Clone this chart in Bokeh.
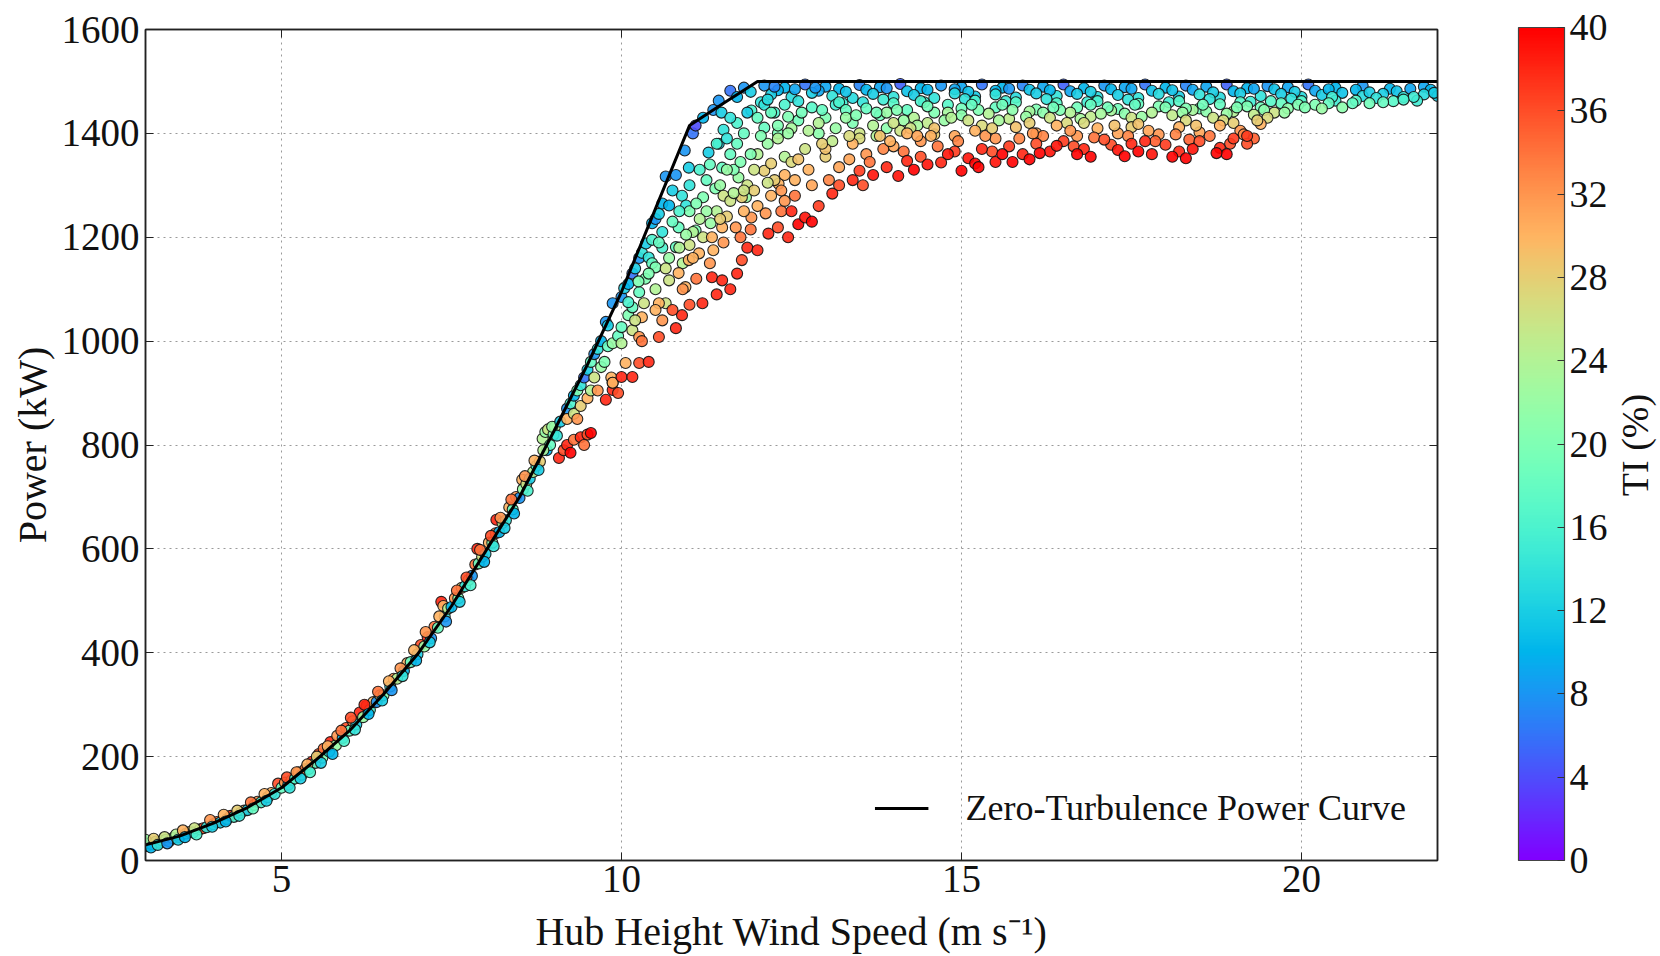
import math
from bokeh.plotting import figure
from bokeh.layouts import row
from bokeh.models import (ColumnDataSource, LinearColorMapper, ColorBar, FixedTicker,
                          LinearAxis, Legend, LegendItem, Range1d)
from bokeh.transform import transform
from bokeh.embed import file_html
from bokeh.resources import INLINE

# ---------------- data ----------------
# zero-turbulence power curve
curve_ws = [3, 3.5, 4, 4.5, 5, 5.5, 6, 6.5, 7, 7.5, 8, 8.5, 9, 9.5, 10, 10.5, 11, 11.5, 12, 22]
curve_p = [30, 47, 72, 102, 140, 193, 250, 320, 397, 490, 595, 700, 825, 955, 1095, 1255, 1415, 1458, 1500, 1500]

# scatter points: (wind speed m/s, power kW, TI %)
pts_low = [
    (3.02, 28, 14), (3.05, 33, 20), (3.1, 31, 10), (3.15, 36, 18), (3.2, 34, 8), (3.25, 38, 22),
    (3.3, 40, 16), (3.35, 37, 12), (3.4, 43, 20), (3.5, 45, 6), (3.6, 52, 18), (3.65, 55, 30),
    (3.7, 54, 12), (3.8, 60, 22), (3.85, 62, 36), (3.9, 64, 14), (4.0, 70, 20), (4.05, 74, 34),
    (4.1, 73, 12), (4.2, 80, 24), (4.25, 86, 38), (4.3, 84, 16), (4.4, 92, 20), (4.45, 96, 30),
    (4.5, 97, 12), (4.6, 107, 22), (4.65, 113, 32), (4.7, 112, 16), (4.8, 122, 20), (4.85, 130, 30),
    (4.9, 128, 14), (4.95, 148, 36), (5.0, 140, 18), (5.05, 150, 32), (5.1, 146, 10), (5.15, 155, 24),
    (3.0, 40, 22), (3.08, 25, 10), (3.12, 42, 28), (3.18, 30, 14), (3.28, 45, 26), (3.32, 33, 8),
    (3.45, 50, 24), (3.48, 40, 12), (3.55, 58, 30), (3.58, 45, 10), (3.72, 62, 26), (3.75, 50, 16),
    (3.95, 78, 32), (3.98, 65, 12), (4.15, 88, 30), (4.18, 75, 10), (4.35, 96, 28), (4.38, 86, 14),
    (4.55, 112, 34), (4.58, 100, 18), (4.75, 128, 30), (4.78, 115, 12), (5.08, 160, 36), (5.12, 140, 14),
]
pts_mid = [
    (5.2, 158, 16), (5.25, 170, 30), (5.3, 165, 22), (5.35, 176, 34), (5.4, 176, 12), (5.45, 190, 38),
    (5.5, 188, 18), (5.55, 205, 36), (5.6, 198, 20), (5.62, 215, 34), (5.7, 210, 14), (5.72, 228, 38),
    (5.8, 222, 22), (5.82, 240, 32), (5.9, 236, 10), (5.95, 255, 36), (6.0, 250, 18), (6.05, 268, 30),
    (6.1, 262, 12), (6.15, 285, 38), (6.2, 276, 22), (6.25, 298, 36), (6.3, 290, 16), (6.35, 305, 30),
    (6.4, 305, 8), (6.45, 318, 28), (6.5, 318, 20), (6.6, 335, 14), (6.65, 350, 32), (6.7, 350, 24),
    (6.8, 365, 10), (6.85, 380, 30), (6.9, 382, 18), (7.0, 397, 12), (7.05, 415, 36), (7.1, 412, 22),
    (7.15, 430, 38), (7.2, 428, 8), (7.25, 450, 34), (7.3, 448, 18), (7.35, 498, 38), (7.38, 490, 30),
    (7.4, 470, 14), (7.45, 485, 24), (7.5, 488, 10),
    (5.22, 170, 32), (5.28, 158, 12), (5.38, 185, 30), (5.42, 170, 16), (5.52, 200, 28), (5.58, 188, 12),
    (5.68, 220, 30), (5.75, 205, 10), (5.88, 250, 34), (5.92, 230, 16), (6.02, 275, 36), (6.08, 252, 14),
    (6.22, 300, 38), (6.28, 282, 10), (6.42, 325, 34), (6.48, 308, 12), (6.58, 345, 30), (6.62, 328, 8),
    (6.75, 370, 32), (6.78, 355, 14), (6.95, 405, 30), (6.98, 385, 10), (7.12, 440, 32), (7.18, 420, 12),
    (7.32, 470, 30), (7.42, 460, 8),
]
pts_rise = [
    (7.55, 505, 32), (7.6, 505, 20), (7.65, 525, 28), (7.7, 528, 14), (7.75, 540, 24), (7.8, 548, 8),
    (7.85, 570, 34), (7.88, 600, 38), (7.9, 572, 18), (7.95, 585, 26), (8.0, 590, 12), (8.05, 612, 30),
    (8.1, 612, 20), (8.15, 630, 34), (8.16, 656, 38), (8.2, 632, 10), (8.25, 650, 24), (8.3, 655, 14),
    (8.35, 680, 30), (8.4, 676, 18), (8.45, 700, 32), (8.5, 698, 8), (8.54, 733, 30), (8.55, 715, 22),
    (8.6, 725, 26), (8.65, 735, 12), (8.7, 748, 24), (8.75, 760, 16), (8.8, 768, 28), (8.84, 812, 24),
    (8.88, 825, 22), (8.9, 790, 10), (8.92, 830, 26), (8.95, 800, 18), (9.0, 820, 20), (9.02, 835, 24),
    (7.58, 520, 34), (7.62, 498, 12), (7.72, 545, 36), (7.78, 530, 16), (7.92, 598, 34), (7.98, 575, 10),
    (8.08, 625, 36), (8.12, 605, 14), (8.22, 660, 32), (8.28, 640, 12), (8.38, 695, 34), (8.42, 668, 10),
    (8.58, 740, 32), (8.62, 712, 16), (8.72, 770, 30), (8.78, 752, 12), (8.85, 790, 24), (8.98, 835, 22),
    (9.05, 818, 14),
]
pts_knee = [
    (9.08, 775, 38), (9.15, 790, 36), (9.2, 800, 38), (9.25, 785, 40), (9.3, 810, 34), (9.4, 815, 38),
    (9.5, 820, 36), (9.55, 823, 40), (9.45, 800, 34),
    (9.1, 845, 12), (9.2, 870, 8), (9.25, 880, 16), (9.3, 895, 10), (9.35, 905, 20), (9.4, 915, 14),
    (9.45, 930, 6), (9.5, 945, 12), (9.55, 960, 18), (9.6, 975, 8), (9.65, 985, 14), (9.7, 1000, 10),
    (9.77, 1037, 8), (9.8, 1030, 12), (9.87, 1073, 8),
    (9.2, 850, 30), (9.3, 860, 26), (9.35, 850, 32), (9.4, 875, 28), (9.5, 890, 30), (9.55, 905, 24),
    (9.6, 930, 26), (9.65, 905, 32), (9.7, 950, 22), (9.75, 960, 20), (9.77, 887, 38), (9.8, 990, 18),
    (9.85, 930, 30), (9.87, 996, 22), (9.87, 906, 38), (9.87, 920, 34),
]
pts_fan = [
    (10.0, 1085, 8), (10.04, 1102, 12), (10.1, 1110, 10), (10.16, 1130, 6), (10.2, 1140, 12),
    (10.26, 1160, 8), (10.3, 1170, 14), (10.36, 1188, 12), (10.4, 1161, 14), (10.45, 1227, 10),
    (10.5, 1235, 8), (10.55, 1245, 12), (10.6, 1265, 10), (10.65, 1317, 8), (10.7, 1261, 10),
    (10.75, 1290, 12), (10.8, 1320, 8), (10.89, 1280, 14), (10.93, 1367, 8), (10.95, 1261, 14),
    (10.99, 1334, 12), (11.05, 1400, 6), (11.09, 1415, 4), (11.2, 1430, 10), (11.28, 1363, 12),
    (11.35, 1445, 8), (11.43, 1463, 8), (11.43, 1380, 12), (11.47, 1440, 12), (11.5, 1407, 14),
    (11.6, 1482, 6), (11.7, 1470, 10), (11.8, 1488, 8), (11.9, 1480, 12),
    (9.95, 1010, 18), (10.0, 1027, 18), (10.1, 1050, 20), (10.16, 1065, 18), (10.26, 1094, 18),
    (10.35, 1120, 20), (10.45, 1150, 18), (10.5, 1142, 20), (10.6, 1180, 16), (10.8, 1181, 18),
    (10.84, 1219, 18), (11.0, 1250, 20), (11.09, 1213, 20), (11.2, 1277, 20), (11.31, 1227, 22),
    (11.38, 1294, 20), (11.48, 1334, 18), (11.6, 1360, 18), (11.72, 1315, 22), (11.83, 1277, 22),
    (11.91, 1444, 16), (12.1, 1411, 18), (12.0, 1430, 18), (11.8, 1400, 18), (11.7, 1420, 16),
    (10.0, 996, 24), (10.16, 1021, 26), (10.33, 1073, 26), (10.5, 1100, 24), (10.65, 1073, 26),
    (10.7, 1117, 26), (10.9, 1150, 24), (11.0, 1185, 26), (11.2, 1200, 26), (11.4, 1250, 24),
    (11.5, 1280, 26), (11.6, 1270, 26), (11.77, 1277, 28), (11.85, 1300, 26), (12.1, 1328, 28),
    (12.2, 1342, 28), (11.95, 1330, 26), (12.0, 1360, 24),
    (9.87, 920, 30), (10.06, 958, 30), (10.26, 1008, 32), (10.3, 1046, 30), (10.55, 1073, 30),
    (10.6, 1040, 32), (10.84, 1131, 30), (10.94, 1104, 30), (10.99, 1156, 30), (11.14, 1169, 30),
    (11.33, 1200, 30), (11.48, 1219, 30), (11.68, 1219, 32), (11.91, 1238, 32), (12.12, 1246, 32),
    (12.31, 1303, 30), (11.5, 1190, 32), (11.8, 1250, 30), (12.2, 1280, 30),
    (9.95, 900, 36), (10.0, 931, 38), (10.16, 931, 38), (10.26, 958, 36), (10.4, 960, 38),
    (10.55, 1008, 36), (10.8, 1025, 38), (10.89, 1050, 38), (11.0, 1070, 36), (11.19, 1073, 38),
    (11.33, 1123, 38), (11.48, 1117, 38), (11.6, 1100, 38), (11.77, 1156, 36), (11.85, 1180, 38),
    (12.0, 1175, 38), (12.16, 1207, 38), (12.3, 1219, 36), (11.4, 1090, 38), (11.7, 1130, 38),
    (10.1, 1075, 16), (10.2, 1040, 26), (10.3, 1000, 34), (10.4, 1130, 20), (10.5, 1060, 30),
    (10.6, 1210, 14), (10.7, 1160, 22), (10.75, 1060, 36), (10.85, 1250, 16), (10.9, 1100, 32),
    (11.0, 1300, 14), (11.05, 1210, 24), (11.1, 1120, 34), (11.15, 1330, 16), (11.25, 1250, 22),
    (11.3, 1150, 32), (11.4, 1380, 16), (11.45, 1300, 22), (11.55, 1240, 28), (11.6, 1430, 14),
    (11.65, 1330, 20), (11.75, 1200, 34), (11.85, 1440, 12), (11.9, 1360, 20), (11.95, 1290, 28),
    (12.05, 1460, 14), (12.15, 1380, 22), (12.25, 1310, 28), (12.35, 1250, 34), (12.45, 1200, 38),
    (12.6, 1225, 40),
    (10.45, 1195, 16), (10.75, 1230, 18), (10.95, 1205, 22), (11.1, 1265, 20), (11.25, 1310, 18),
    (11.35, 1175, 30), (11.55, 1390, 14), (11.65, 1285, 24), (11.75, 1345, 20), (11.9, 1215, 34),
    (12.05, 1395, 20), (12.15, 1305, 26), (12.25, 1440, 16), (12.4, 1355, 24), (12.55, 1310, 30),
    (10.25, 1115, 20), (10.55, 1190, 18), (10.65, 1140, 26), (10.85, 1180, 24), (11.05, 1160, 30),
    (11.15, 1235, 24), (11.3, 1340, 18), (11.45, 1235, 28), (11.55, 1330, 22), (11.7, 1380, 18),
    (11.8, 1290, 26), (12.0, 1260, 30), (12.1, 1455, 14), (12.3, 1400, 20), (12.4, 1270, 32),
]
pts_plateau_low_ti = [
    (12.1, 1492, 8), (12.4, 1488, 10), (12.7, 1494, 6), (13.0, 1490, 9), (13.2, 1486, 10), (13.5, 1493, 7),
    (13.8, 1489, 9), (14.1, 1495, 5), (14.4, 1487, 10), (14.7, 1492, 8), (15.0, 1489, 9), (15.3, 1494, 6),
    (15.6, 1488, 10), (15.9, 1492, 7), (16.2, 1490, 9), (16.5, 1494, 5), (16.8, 1487, 10), (17.1, 1492, 8),
    (17.4, 1489, 9), (17.7, 1494, 6), (18.0, 1488, 10), (18.3, 1492, 7), (18.6, 1490, 9), (18.9, 1494, 5),
    (19.2, 1487, 10), (19.5, 1491, 8), (19.8, 1489, 9), (20.1, 1494, 6), (20.5, 1488, 10), (20.9, 1491, 8),
    (21.3, 1486, 10), (21.8, 1490, 9),
    (12.3, 1483, 10), (12.9, 1482, 9), (13.6, 1484, 10), (14.2, 1481, 11), (14.9, 1485, 9), (15.5, 1482, 10),
    (16.0, 1484, 11), (16.6, 1481, 9), (17.2, 1485, 10), (17.8, 1482, 11), (18.4, 1484, 9), (19.0, 1481, 10),
    (19.6, 1485, 11), (20.2, 1482, 9), (20.8, 1484, 10), (21.4, 1481, 11), (21.9, 1484, 10),
    (12.2, 1475, 12), (12.5, 1470, 13), (12.8, 1478, 12), (13.1, 1472, 14), (13.4, 1468, 13), (13.7, 1476, 12),
    (14.0, 1470, 14), (14.3, 1474, 12), (14.6, 1468, 14), (14.9, 1477, 13), (15.2, 1471, 12), (15.5, 1475, 14),
    (15.8, 1469, 13), (16.1, 1477, 12), (16.4, 1472, 14), (16.7, 1476, 12), (17.0, 1470, 13), (17.3, 1474, 12),
    (17.6, 1468, 14), (17.9, 1476, 13), (18.2, 1471, 12), (18.5, 1475, 14), (18.8, 1469, 13), (19.1, 1477, 12),
    (19.4, 1472, 14), (19.7, 1476, 12), (20.0, 1470, 13), (20.3, 1474, 12), (20.6, 1478, 11), (20.9, 1472, 13),
    (21.2, 1476, 12), (21.5, 1470, 14), (21.8, 1475, 13), (22.0, 1472, 12),
    (12.25, 1490, 7), (12.55, 1485, 9), (12.85, 1488, 8), (13.3, 1480, 11), (13.9, 1487, 8), (14.5, 1484, 10),
    (15.1, 1480, 11), (15.7, 1486, 8), (16.3, 1483, 10), (16.9, 1480, 12), (17.5, 1486, 9), (18.1, 1483, 11),
    (18.7, 1479, 12), (19.3, 1486, 9), (19.9, 1480, 12), (20.4, 1485, 10), (21.0, 1479, 12), (21.6, 1486, 9),
    (12.6, 1462, 14), (13.25, 1458, 15), (13.85, 1465, 15), (14.45, 1460, 15), (15.05, 1466, 14),
    (15.65, 1462, 15), (16.25, 1466, 14), (16.85, 1460, 15), (17.45, 1465, 14), (18.05, 1460, 15),
    (18.65, 1466, 14), (19.25, 1461, 15), (19.85, 1467, 14), (20.5, 1463, 15), (21.1, 1468, 14),
    (21.7, 1463, 15),
    (12.15, 1465, 13), (13.15, 1455, 15), (13.55, 1460, 14), (20.45, 1470, 15), (21.35, 1462, 17),
    (21.65, 1470, 15), (21.95, 1478, 12),
]
pts_plateau_mid_ti = [
    (12.2, 1440, 18), (12.4, 1455, 16), (12.6, 1425, 19), (12.8, 1450, 17), (13.0, 1430, 20), (13.2, 1460, 16),
    (13.4, 1420, 20), (13.6, 1448, 18), (13.8, 1435, 19), (14.0, 1458, 17), (14.2, 1445, 18), (14.4, 1462, 16),
    (14.6, 1440, 20), (14.8, 1455, 17), (15.0, 1448, 19), (15.2, 1463, 16), (15.5, 1450, 18), (15.8, 1460, 17),
    (16.1, 1446, 20), (16.4, 1458, 17), (16.7, 1450, 19), (17.0, 1462, 16), (17.3, 1447, 19), (17.6, 1457, 18),
    (17.9, 1452, 20), (18.2, 1462, 17), (18.5, 1448, 19), (18.8, 1456, 18), (19.1, 1460, 17), (19.4, 1450, 19),
    (19.7, 1458, 18), (20.0, 1462, 17), (20.4, 1458, 18), (20.8, 1463, 17), (21.2, 1460, 18), (21.5, 1465, 16),
    (12.3, 1415, 20), (12.9, 1400, 21), (13.3, 1445, 18), (13.9, 1410, 21), (14.5, 1452, 19), (15.0, 1435, 21),
    (15.6, 1455, 19), (16.2, 1440, 21), (16.9, 1455, 18), (17.4, 1438, 21), (18.0, 1450, 20), (18.6, 1442, 21),
    (19.2, 1452, 20), (19.8, 1448, 21), (20.2, 1455, 20), (20.6, 1450, 21),
    (12.3, 1390, 24), (12.5, 1410, 23), (12.7, 1370, 26), (12.9, 1420, 24), (13.1, 1385, 25), (13.3, 1430, 22),
    (13.5, 1400, 26), (13.7, 1415, 24), (13.9, 1440, 22), (14.1, 1405, 26), (14.3, 1430, 24), (14.5, 1420, 25),
    (14.8, 1440, 23), (15.1, 1425, 26), (15.4, 1438, 24), (15.7, 1428, 25), (16.0, 1442, 23), (16.3, 1430, 26),
    (16.6, 1440, 24), (16.9, 1432, 25), (17.2, 1444, 23), (17.5, 1430, 26), (17.8, 1440, 24), (18.1, 1435, 25),
    (18.4, 1445, 23), (18.7, 1430, 26), (19.0, 1442, 24), (19.3, 1436, 25), (19.6, 1440, 26),
    (12.45, 1400, 22), (12.65, 1440, 19), (12.95, 1445, 18), (13.15, 1410, 22), (13.45, 1435, 20),
    (13.75, 1395, 24), (14.15, 1425, 22), (14.35, 1415, 23), (14.75, 1425, 22), (15.25, 1445, 20),
    (15.55, 1425, 23), (15.95, 1432, 22), (16.45, 1445, 20), (16.75, 1428, 23), (17.15, 1450, 19),
    (17.65, 1432, 22), (18.3, 1448, 20), (18.9, 1438, 22), (19.45, 1445, 21), (19.95, 1455, 20),
    (20.3, 1448, 22), (21.0, 1458, 19),
    (12.45, 1432, 20), (12.75, 1405, 24), (13.75, 1440, 19), (14.05, 1445, 20), (14.25, 1410, 26),
    (14.85, 1430, 24), (15.15, 1455, 18), (15.75, 1445, 21), (16.35, 1450, 19), (16.55, 1420, 27),
    (17.05, 1438, 23), (17.55, 1455, 18), (18.25, 1440, 22), (18.55, 1455, 19), (18.85, 1425, 27),
    (19.05, 1450, 20), (19.55, 1462, 17), (19.75, 1440, 22), (20.05, 1450, 20), (20.75, 1458, 18),
]
pts_plateau_high_ti = [
    (12.5, 1345, 27), (13.0, 1355, 28), (13.5, 1390, 27), (14.0, 1420, 26), (14.6, 1398, 28), (15.3, 1415, 27),
    (16.0, 1420, 28), (16.8, 1420, 27), (17.5, 1412, 28), (18.3, 1425, 27), (19.0, 1420, 28), (19.5, 1430, 27),
    (12.4, 1320, 30), (12.6, 1350, 29), (12.8, 1300, 31), (13.0, 1370, 29), (13.2, 1335, 31), (13.4, 1380, 30),
    (13.6, 1360, 32), (13.8, 1395, 29), (14.0, 1375, 31), (14.2, 1400, 30), (14.4, 1385, 32), (14.6, 1410, 29),
    (14.9, 1395, 31), (15.2, 1405, 30), (15.5, 1390, 32), (15.8, 1412, 29), (16.1, 1400, 31), (16.4, 1415, 30),
    (16.7, 1395, 32), (17.0, 1410, 30), (17.3, 1400, 31), (17.6, 1418, 29), (17.9, 1398, 32), (18.2, 1412, 30),
    (18.5, 1402, 31), (18.8, 1415, 30), (19.1, 1405, 32), (19.4, 1418, 30),
    (12.35, 1290, 32), (12.55, 1280, 34), (12.75, 1330, 30), (13.05, 1310, 33), (13.35, 1350, 31),
    (13.55, 1300, 36), (13.65, 1345, 34), (13.85, 1370, 33), (14.15, 1365, 34), (14.35, 1395, 31),
    (14.65, 1375, 34), (14.95, 1385, 33), (15.35, 1395, 32), (15.45, 1365, 36), (15.85, 1390, 33),
    (16.2, 1395, 33), (16.6, 1405, 32), (16.95, 1392, 34), (17.2, 1378, 36), (17.45, 1395, 33),
    (17.85, 1385, 35), (18.15, 1398, 33), (18.35, 1388, 35), (18.65, 1395, 34), (18.95, 1380, 36),
    (19.15, 1398, 33), (19.3, 1390, 35),
    (12.95, 1380, 28), (13.35, 1395, 27), (13.95, 1385, 30), (14.55, 1395, 30), (15.45, 1410, 28),
    (16.05, 1400, 32), (16.65, 1375, 36), (17.25, 1415, 29), (17.75, 1405, 31), (18.45, 1415, 29),
    (19.35, 1425, 28),
    (12.5, 1250, 38), (12.7, 1238, 39), (12.8, 1230, 40), (12.9, 1260, 37), (13.1, 1284, 38), (13.2, 1300, 36),
    (13.4, 1310, 38), (13.5, 1328, 37), (13.7, 1320, 39), (13.9, 1335, 38), (14.07, 1318, 39), (14.2, 1347, 38),
    (14.4, 1355, 36), (14.5, 1340, 39), (14.7, 1344, 38), (14.9, 1365, 37), (15.0, 1328, 40), (15.1, 1352, 39),
    (15.3, 1370, 38), (15.5, 1345, 39), (15.7, 1375, 37), (15.9, 1360, 38), (16.1, 1380, 36), (16.3, 1365, 39),
    (16.5, 1385, 37), (16.8, 1370, 38), (17.1, 1388, 36), (17.3, 1368, 39), (17.5, 1380, 38), (17.8, 1360, 39),
    (18.0, 1378, 37), (18.2, 1365, 38), (18.5, 1385, 36), (18.8, 1372, 38), (19.0, 1390, 37), (19.2, 1380, 36),
    (14.3, 1330, 40), (14.8, 1360, 39), (15.2, 1342, 40), (15.6, 1360, 40), (16.0, 1350, 40), (16.4, 1376, 39),
    (16.9, 1355, 40), (17.4, 1356, 40), (17.7, 1385, 38), (18.1, 1355, 40), (18.4, 1370, 39), (18.9, 1360, 40),
    (19.2, 1395, 37),
    (15.25, 1335, 40), (15.75, 1345, 40), (16.15, 1362, 40), (16.7, 1360, 40), (17.6, 1365, 40),
    (18.3, 1352, 40), (18.75, 1362, 40),
]

y_ticks = [0, 200, 400, 600, 800, 1000, 1200, 1400, 1600]
x_ticks = [5, 10, 15, 20]
cb_ticks = [0, 4, 8, 12, 16, 20, 24, 28, 32, 36, 40]

# ---------------- build ----------------
all_pts = (pts_low + pts_mid + pts_rise + pts_knee + pts_fan +
           pts_plateau_low_ti + pts_plateau_mid_ti + pts_plateau_high_ti)
src = ColumnDataSource(dict(ws=[p_[0] for p_ in all_pts],
                            pw=[p_[1] for p_ in all_pts],
                            ti=[p_[2] for p_ in all_pts]))


def rainbow(n=256):
    pal = []
    for i in range(n):
        x = i / (n - 1)
        r = min(1.0, abs(2 * x - 0.5))
        g = math.sin(math.pi * x)
        b = math.cos(math.pi * x / 2)
        pal.append("#%02x%02x%02x" % (round(r * 255), round(g * 255), round(max(0, b) * 255)))
    return pal


FONT = "Liberation Serif"
mapper = LinearColorMapper(palette=rainbow(), low=0, high=40)

MAIN_W = 1610
p = figure(width=MAIN_W, height=956, x_range=Range1d(3, 22), y_range=Range1d(0, 1600),
           output_backend="svg", toolbar_location=None,
           min_border_left=145, min_border_right=MAIN_W - 1438, min_border_top=29, min_border_bottom=94)
p.background_fill_color = "white"
p.border_fill_color = "white"
p.outline_line_color = "#222222"
p.outline_line_width = 1.5

for ax in (p.xaxis[0], p.yaxis[0]):
    ax.major_tick_in = 8
    ax.major_tick_out = 0
    ax.minor_tick_line_color = None
    ax.major_tick_line_color = "#222222"
    ax.axis_line_color = "#222222"
    ax.axis_line_width = 1.5
    ax.major_label_text_font = FONT
    ax.major_label_text_font_size = "39px"
    ax.major_label_text_color = "#111111"
    ax.axis_label_text_font = FONT
    ax.axis_label_text_font_size = "40px"
    ax.axis_label_text_font_style = "normal"
    ax.axis_label_text_color = "#111111"

p.xaxis.ticker = FixedTicker(ticks=x_ticks)
p.yaxis.ticker = FixedTicker(ticks=y_ticks)
p.xaxis.axis_label = "Hub Height Wind Speed (m s\u207b\u00b9)"
p.yaxis.axis_label = "Power (kW)"
p.xaxis.major_label_standoff = 5
p.yaxis.major_label_standoff = 6
p.xaxis.axis_label_standoff = 14
p.yaxis.axis_label_standoff = 4

# inner ticks on the top and right spines (labels not drawn)
for side, tk in (("above", x_ticks), ("right", y_ticks)):
    ax = LinearAxis(ticker=FixedTicker(ticks=tk), major_tick_in=8, major_tick_out=0,
                    minor_tick_line_color=None, major_tick_line_color="#222222",
                    axis_line_color="#222222", axis_line_width=1.5,
                    major_label_text_font_size="0px", major_label_text_color=None,
                    major_label_standoff=0)
    p.add_layout(ax, side)

p.grid.grid_line_color = "#9a9a9a"
p.grid.grid_line_dash = "2 4"
p.grid.grid_line_width = 1
p.xgrid.ticker = FixedTicker(ticks=x_ticks)
p.ygrid.ticker = FixedTicker(ticks=y_ticks)

p.scatter("ws", "pw", source=src, size=11, marker="circle",
          fill_color=transform("ti", mapper), fill_alpha=0.9,
          line_color="#111111", line_width=1.1, line_alpha=0.9)

curve = p.line(curve_ws, curve_p, line_color="black", line_width=3)

legend = Legend(items=[LegendItem(label="Zero-Turbulence Power Curve", renderers=[curve])],
                location="bottom_right", border_line_alpha=0, background_fill_alpha=0,
                label_text_font=FONT, label_text_font_size="36px", label_text_color="#111111",
                glyph_width=54, glyph_height=40, label_standoff=37, margin=20, padding=11)
p.add_layout(legend)

cb = ColorBar(color_mapper=mapper, ticker=FixedTicker(ticks=cb_ticks), width=46, height=833,
              padding=0, margin=0, location=(81, 0),
              major_label_text_font=FONT, major_label_text_font_size="38px",
              major_label_text_color="#111111", label_standoff=5,
              major_tick_in=7, major_tick_out=0, major_tick_line_color="#333333",
              minor_tick_line_color=None, bar_line_color="#444444", bar_line_width=1.2,
              background_fill_alpha=0)
p.add_layout(cb, "right")

# narrow companion figure that only carries the colour-bar label "TI (%)"
lab = figure(width=1660 - MAIN_W, height=956, x_range=Range1d(0, 1), y_range=Range1d(0, 1),
             output_backend="svg", toolbar_location=None, x_axis_location=None,
             min_border_left=0, min_border_right=0, min_border_top=29, min_border_bottom=94)
lab.outline_line_color = None
lab.background_fill_color = "white"
lab.border_fill_color = "white"
lab.grid.visible = False
ya = lab.yaxis[0]
ya.ticker = FixedTicker(ticks=[])
ya.axis_line_color = None
ya.major_tick_line_color = None
ya.minor_tick_line_color = None
ya.major_tick_in = 0
ya.major_tick_out = 0
ya.major_label_text_font_size = "0px"
ya.major_label_text_color = None
ya.major_label_standoff = 0
ya.axis_label = "TI (%)"
ya.axis_label_standoff = 0
ya.axis_label_text_font = FONT
ya.axis_label_text_font_size = "38px"
ya.axis_label_text_font_style = "normal"
ya.axis_label_text_color = "#111111"

layout = row(p, lab, spacing=0)
open("out.html", "w").write(file_html(layout, INLINE))
